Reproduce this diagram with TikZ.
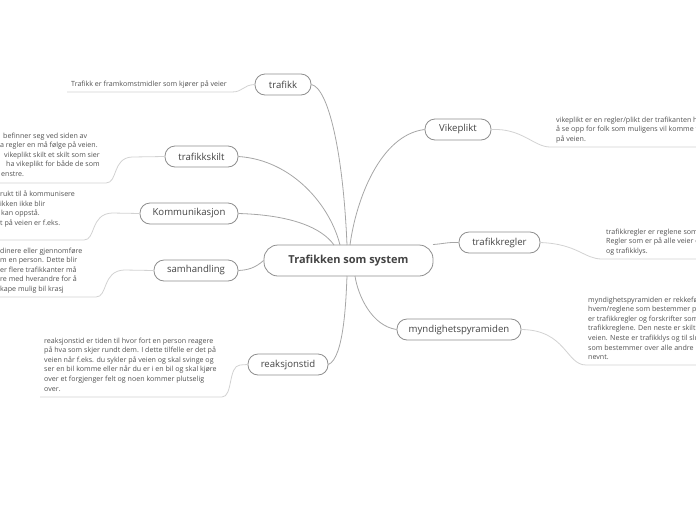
\documentclass[tikz,border=0pt]{standalone}
\usepackage{fontspec}
\setmainfont{Open Sans}
\usetikzlibrary{positioning}
\definecolor{inkT}{HTML}{444444}
\definecolor{inkN}{HTML}{505050}
\definecolor{frameC}{HTML}{8E8E8E}
\definecolor{linkC}{HTML}{A6A6A6}
\definecolor{noteC}{HTML}{D2D2D2}
\tikzset{
  card/.style    ={draw=frameC, fill=white, line width=0.8pt, text=inkT,
                   inner xsep=8pt, inner ysep=0pt, align=center},
  Lhub/.style    ={card, rounded corners=14pt, minimum height=31pt,
                   minimum width=169pt, font=\fontsize{11}{13}\selectfont\bfseries},
  Ltopic/.style  ={card, rounded corners=10pt, minimum height=21pt,
                   font=\fontsize{9.6}{11}\selectfont},
  Lnote/.style   ={inner sep=0pt, align=left, anchor=north west, text=inkN,
                   font=\fontsize{7.1}{9.6}\selectfont},
  branch/.style  ={linkC, line width=0.8pt},
  notelink/.style={noteC, line width=0.8pt},
}

\begin{document}
\begin{tikzpicture}[x=1pt, y=-1pt]
\useasboundingbox (0,0) rectangle (696,520);
\clip (0,0) rectangle (696,520);

% hub + topics
\node[Lhub] (HUB) at (348.5, 260.5) {Trafikken som system};
\node[Ltopic, minimum width=56pt]  (TR) at (283, 84.5)   {trafikk};
\node[Ltopic, minimum width=73pt]  (TS) at (201.5,156.5) {trafikkskilt};
\node[Ltopic, minimum width=98pt]  (KO) at (189, 213.5)  {Kommunikasjon};
\node[Ltopic, minimum width=84pt]  (SH) at (196, 270.5)  {samhandling};
\node[Ltopic, minimum width=80pt]  (RT) at (288, 364.5)  {reaksjonstid};
\node[Ltopic, minimum width=66pt]  (VP) at (458, 129.5)  {Vikeplikt};
\node[Ltopic, minimum width=81pt]  (TG) at (499.5,242.5) {trafikkregler};
\node[Ltopic, minimum width=124pt] (MP) at (459, 329.5)  {myndighetspyramiden};

% hub -> topics
\draw[branch] (TR.east) .. controls (328,88) and (343,150) .. (347,245);
\draw[branch] (TS.east) .. controls (292,160) and (330,205) .. (340,245);
\draw[branch] (KO.east) .. controls (292,215) and (322,228) .. (334,245);
\draw[branch] (SH.east) .. controls (248,270) and (255,268) .. (HUB.west);
\draw[branch] (RT.east) .. controls (344,358) and (346,300) .. (347,276);
\draw[branch] (VP.west) .. controls (380,135) and (356,200) .. (350,245);
\draw[branch] (TG.west) .. controls (448,242) and (442,244) .. (433,244.5);
\draw[branch] (MP.west) .. controls (372,326) and (358,296) .. (355,276);

% notes, left side
\node[Lnote] (nTR) at (71, 80.5) {Trafikk er framkomstmidler som kjører på veier};
\coordinate (uTR) at (67, 92);
\draw[notelink] (uTR) -- (232,92) .. controls (243,92) and (243,85) .. (TR.west);

\node[Lnote] (nTS) at (0, 132.5)
  {\kern3pt befinner seg ved siden av\\
   a regler en må følge på veien.\\
   \kern4pt vikeplikt skilt et skilt som sier\\
   \kern6pt ha vikeplikt for både de som\\
   \kern1pt enstre.};
\coordinate (uTS) at (-5, 183);
\draw[notelink] (uTS) -- (106,183) .. controls (118,183) and (112,158) .. (132,157) -- (TS.west);

\node[Lnote] (nKO) at (0, 190.5)
  {rukt til å kommunisere\\
   ikken ikke blir\\
   \kern1pt kan oppstå.\\
   t på veien er f.eks.};
\coordinate (uKO) at (-5, 240);
\draw[notelink] (uKO) -- (84,240) .. controls (96,240) and (90,214) .. (112,213) -- (KO.west);

\node[Lnote] (nSH) at (0, 247.5)
  {dinere eller gjennomføre\\
   m en person. Dette blir\\
   er flere trafikkanter må\\
   re med hverandre for å\\
   kape mulig bil krasj};
\coordinate (uSH) at (-5, 297);
\draw[notelink] (uSH) -- (96,297) .. controls (108,297) and (102,271) .. (124,270) -- (SH.west);

\node[Lnote] (nRT) at (44, 337.5)
  {reaksjonstid er tiden til hvor fort en person reagere\\
   på hva som skjer rundt dem. I dette tilfelle er det på\\
   veien når f.eks. du sykler på veien og skal svinge og\\
   ser en bil komme eller når du er i en bil og skal kjøre\\
   over et forgjenger felt og noen kommer plutselig\\
   over.};
\coordinate (uRT) at (40, 397);
\draw[notelink] (uRT) -- (222,397) .. controls (233,397) and (228,366) .. (240,365) -- (RT.west);

% notes, right side
\node[Lnote] (nVP) at (556, 116.5)
  {vikeplikt er en regler/plikt der trafikanten h\\
   å se opp for folk som muligens vil komme t\\
   på veien.};
\coordinate (uVP) at (700, 147);
\draw[notelink] (VP.east) .. controls (522,128) and (534,147) .. (550,147) -- (uVP);

\node[Lnote] (nTG) at (606, 228.5)
  {trafikkregler er reglene som\\
   Regler som er på alle veier o\\
   og trafikklys.};
\coordinate (uTG) at (700, 259);
\draw[notelink] (TG.east) .. controls (578,244) and (584,259) .. (602,259) -- (uTG);

\node[Lnote] (nMP) at (588, 296.5)
  {myndighetspyramiden er rekkefø\\
   hvem/reglene som bestemmer p\\
   er trafikkregler og forskrifter som\\
   trafikkreglene. Den neste er skilt\\
   veien. Neste er trafikklys og til slu\\
   som bestemmer over alle andre p\\
   nevnt.};
\coordinate (uMP) at (700, 365);
\draw[notelink] (MP.east) .. controls (566,330) and (566,365) .. (586,365) -- (uMP);

\end{tikzpicture}
\end{document}
